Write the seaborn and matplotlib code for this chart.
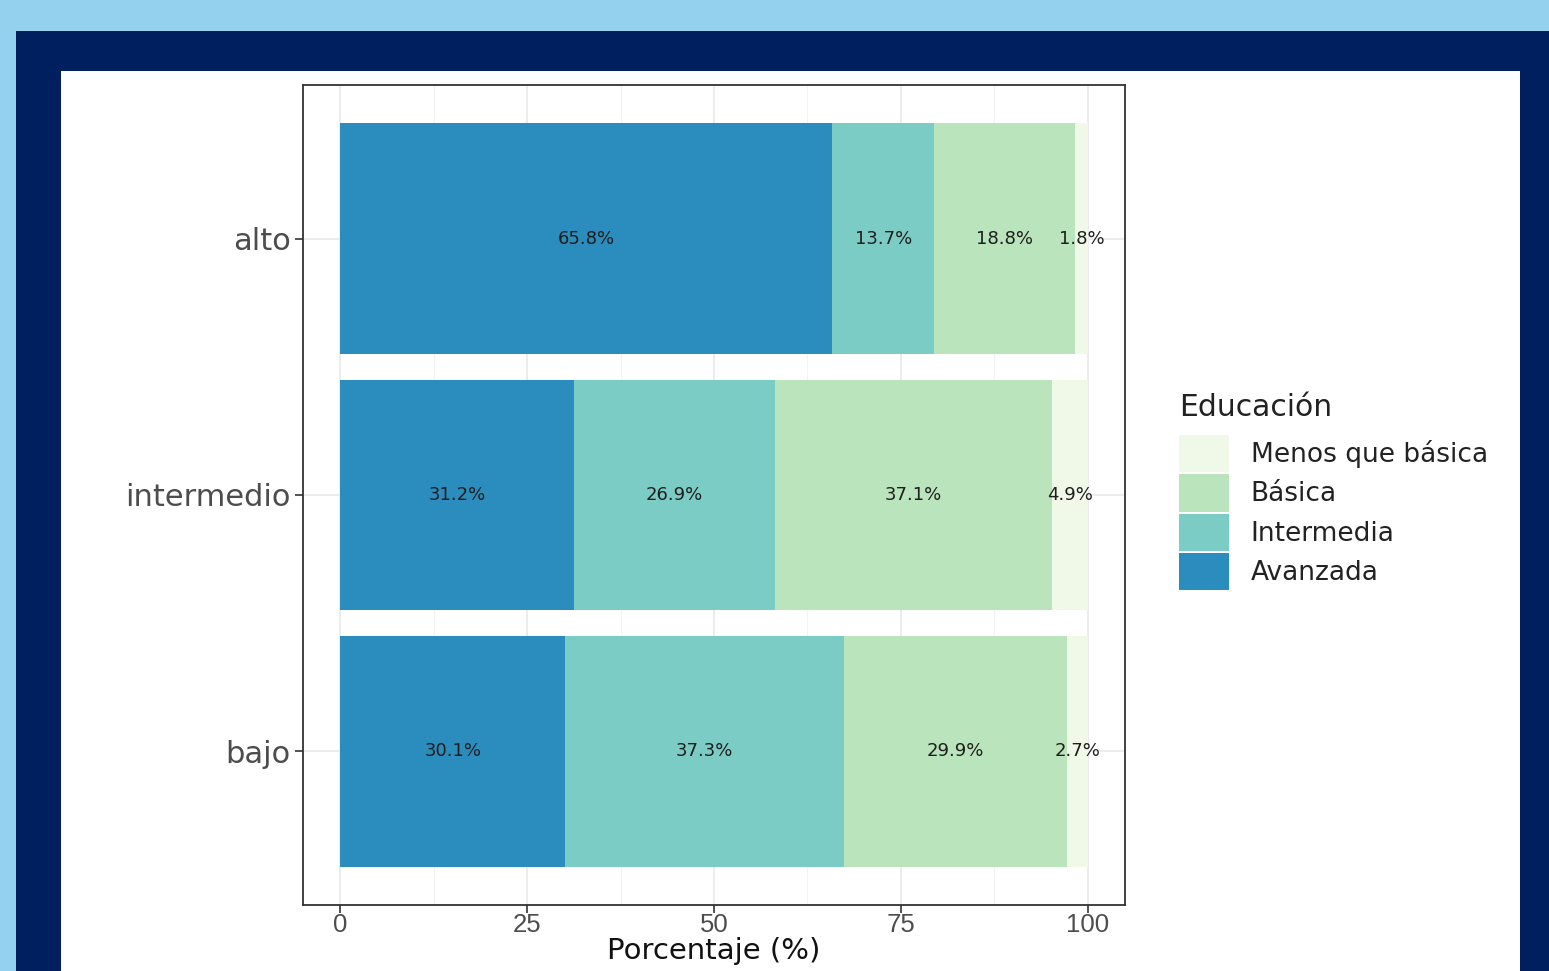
import matplotlib
matplotlib.use("Agg")
import matplotlib.pyplot as plt
from matplotlib.patches import Rectangle, Patch
import seaborn as sns
import pandas as pd
import numpy as np

sns.set_theme(style="white")
plt.rcParams['font.family'] = ['DejaVu Sans']

niveles = ["alto", "intermedio", "bajo"]
educacion = ["Avanzada", "Intermedia", "Básica", "Menos que básica"]
avanzada = [65.8, 31.2, 30.1]
intermedia = [13.7, 26.9, 37.3]
basica = [18.8, 37.1, 29.9]
menos = [1.8, 4.9, 2.7]
colores = ["#2B8CBE", "#7BCCC4", "#BAE4BC", "#F0F9E8"]

W, H = 1549, 971
fig = plt.figure(figsize=(W / 100, H / 100), dpi=100)
fig.patch.set_facecolor("#94D1EE")
fig.patches.append(Rectangle((16 / W, 0), 1 - 16 / W, 1 - 31 / H, transform=fig.transFigure,
                             facecolor="#001F5E", edgecolor="none", zorder=-10))
fig.patches.append(Rectangle((61 / W, 0), (1520 - 61) / W, 1 - 71 / H, transform=fig.transFigure,
                             facecolor="white", edgecolor="none", zorder=-9))

ax = fig.add_axes([303 / W, (H - 905) / H, (1125 - 303) / W, (905 - 85) / H])

series = [avanzada, intermedia, basica, menos]
vals = np.array(series)  # shape (4, 3)
cum = np.cumsum(vals, axis=0)

# gridlines
for x in [0, 25, 50, 75, 100]:
    ax.axvline(x, color="#EBEBEB", lw=1.3, zorder=0)
for x in [12.5, 37.5, 62.5, 87.5]:
    ax.axvline(x, color="#F3F3F3", lw=0.8, zorder=0)
for y in range(3):
    ax.axhline(y, color="#EBEBEB", lw=1.3, zorder=0)

# draw cumulative bars from largest to smallest
for i in range(3, -1, -1):
    df = pd.DataFrame({"nivel": niveles, "valor": cum[i]})
    sns.barplot(data=df, x="valor", y="nivel", order=niveles, orient="h",
                color=colores[i], saturation=1, width=0.9, ax=ax, zorder=2,
                edgecolor="none", linewidth=0)

# labels
for j in range(3):
    for i in range(4):
        start = cum[i][j] - vals[i][j]
        center = start + vals[i][j] / 2
        ax.text(center, j, f"{vals[i][j]:.1f}%", ha="center", va="center",
                fontsize=13, color="#1E1E1E", zorder=5)

ax.set_xlim(-5, 105)
ax.set_ylim(2.6, -0.6)
ax.set_xticks([0, 25, 50, 75, 100])
ax.set_xticklabels(["0", "25", "50", "75", "100"], family=["Liberation Sans", "DejaVu Sans"])
ax.tick_params(axis="both", which="major", length=6, width=1.2, color="#333333",
               direction="out", bottom=True, left=True)
ax.tick_params(axis="x", labelsize=18.5, labelcolor="#4D4D4D", pad=0)
ax.tick_params(axis="y", labelsize=22, labelcolor="#4D4D4D", pad=3)
ax.set_xlabel("Porcentaje (%)", fontsize=21, color="#111111", labelpad=0)
ax.set_ylabel("")
for s in ax.spines.values():
    s.set_color("#333333")
    s.set_linewidth(1.3)
ax.set_facecolor("white")

handles = [Patch(facecolor=colores[i], edgecolor="none") for i in range(3, -1, -1)]
labels = [educacion[i] for i in range(3, -1, -1)]
leg = fig.legend(handles, labels, title="Educación", loc="upper left",
                 bbox_to_anchor=(1174 / W, 1 - 388 / H), frameon=False,
                 fontsize=19, title_fontsize=21.5, handlelength=1.9, handleheight=1.8,
                 labelspacing=0.08, handletextpad=0.8, borderaxespad=0, borderpad=0.2)
leg._legend_box.align = "left"
leg._legend_box.sep = 9
for t in leg.get_texts():
    t.set_color("#222222")
leg.get_title().set_color("#222222")

fig.savefig("out.png", dpi=100, facecolor=fig.get_facecolor())
